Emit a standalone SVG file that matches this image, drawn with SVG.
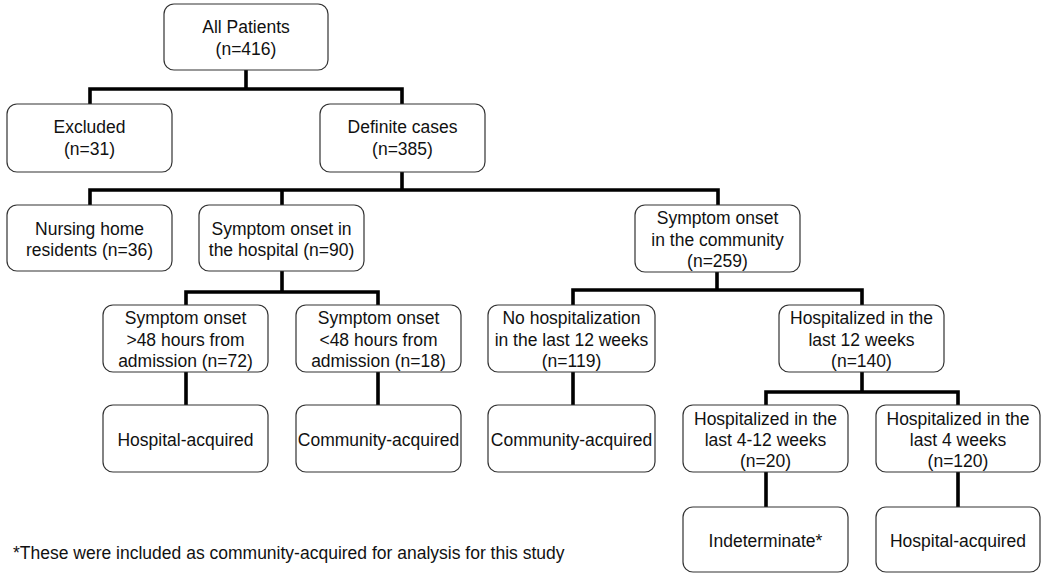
<svg xmlns="http://www.w3.org/2000/svg" width="1050" height="575" viewBox="0 0 1050 575">
<style>
.box{fill:#fff;stroke:#333;stroke-width:1.2}
text{font-family:"Liberation Sans",Arial,sans-serif;font-size:17.5px;fill:#111;text-anchor:middle}
.conn{fill:none;stroke:#000;stroke-width:3.6;stroke-linejoin:miter;stroke-linecap:butt}
</style>
<rect width="1050" height="575" fill="#fff"/>
<g id="connectors" class="conn">
<path d="M246 70V89M90 104V89H402V104"/>
<path d="M402 172V190M90 205V190H718V205M282 190V205"/>
<path d="M282 271V292M186 305V292H378V305"/>
<path d="M717 272V290M573 305V290H862V305"/>
<path d="M186 372V405M378 372V405M573 372V405"/>
<path d="M862 372V392M766 405V392H958V405"/>
<path d="M766 472V507M958 472V507"/>
</g>
<g id="all"><rect class="box" x="164" y="4" width="164" height="66" rx="10"/><text x="246" y="33">All Patients</text><text x="246" y="55">(n=416)</text></g>
<g id="excluded"><rect class="box" x="7" y="104" width="165" height="68" rx="10"/><text x="89.5" y="133">Excluded</text><text x="89.5" y="155">(n=31)</text></g>
<g id="definite"><rect class="box" x="320" y="104" width="165" height="68" rx="10"/><text x="402.5" y="133">Definite cases</text><text x="402.5" y="155">(n=385)</text></g>
<g id="nursing"><rect class="box" x="7" y="205" width="165" height="66" rx="10"/><text x="89.5" y="235">Nursing home</text><text x="89.5" y="256">residents (n=36)</text></g>
<g id="onset-hospital"><rect class="box" x="199" y="205" width="165" height="66" rx="10"/><text x="281.5" y="235">Symptom onset in</text><text x="281.5" y="256">the hospital (n=90)</text></g>
<g id="onset-community"><rect class="box" x="635" y="205" width="165" height="67" rx="10"/><text x="717.5" y="224">Symptom onset</text><text x="717.5" y="245.5">in the community</text><text x="717.5" y="267">(n=259)</text></g>
<g id="gt48"><rect class="box" x="103" y="305" width="165" height="67" rx="10"/><text x="185.5" y="324">Symptom onset</text><text x="185.5" y="345.5">&gt;48 hours from</text><text x="185.5" y="367">admission (n=72)</text></g>
<g id="lt48"><rect class="box" x="296" y="305" width="165" height="67" rx="10"/><text x="378.5" y="324">Symptom onset</text><text x="378.5" y="345.5">&lt;48 hours from</text><text x="378.5" y="367">admission (n=18)</text></g>
<g id="no-hosp"><rect class="box" x="488" y="305" width="167" height="67" rx="10"/><text x="571.5" y="324">No hospitalization</text><text x="571.5" y="345.5">in the last 12 weeks</text><text x="571.5" y="367">(n=119)</text></g>
<g id="hosp12"><rect class="box" x="779" y="305" width="165" height="67" rx="10"/><text x="861.5" y="324">Hospitalized in the</text><text x="861.5" y="345.5">last 12 weeks</text><text x="861.5" y="367">(n=140)</text></g>
<g id="ha1"><rect class="box" x="103" y="405" width="165" height="67" rx="10"/><text x="185.5" y="446">Hospital-acquired</text></g>
<g id="ca1"><rect class="box" x="296" y="405" width="165" height="67" rx="10"/><text x="378.5" y="446">Community-acquired</text></g>
<g id="ca2"><rect class="box" x="488" y="405" width="167" height="67" rx="10"/><text x="571.5" y="446">Community-acquired</text></g>
<g id="hosp4-12"><rect class="box" x="683" y="405" width="165" height="67" rx="10"/><text x="765.5" y="425">Hospitalized in the</text><text x="765.5" y="446">last 4-12 weeks</text><text x="765.5" y="467">(n=20)</text></g>
<g id="hosp4"><rect class="box" x="876" y="405" width="164" height="67" rx="10"/><text x="958" y="425">Hospitalized in the</text><text x="958" y="446">last 4 weeks</text><text x="958" y="467">(n=120)</text></g>
<g id="indet"><rect class="box" x="683" y="507" width="165" height="65" rx="10"/><text x="765.5" y="547">Indeterminate*</text></g>
<g id="ha2"><rect class="box" x="876" y="507" width="164" height="65" rx="10"/><text x="958" y="547">Hospital-acquired</text></g>
<text id="footnote" x="13" y="559" style="text-anchor:start">*These were included as community-acquired for analysis for this study</text>
</svg>
